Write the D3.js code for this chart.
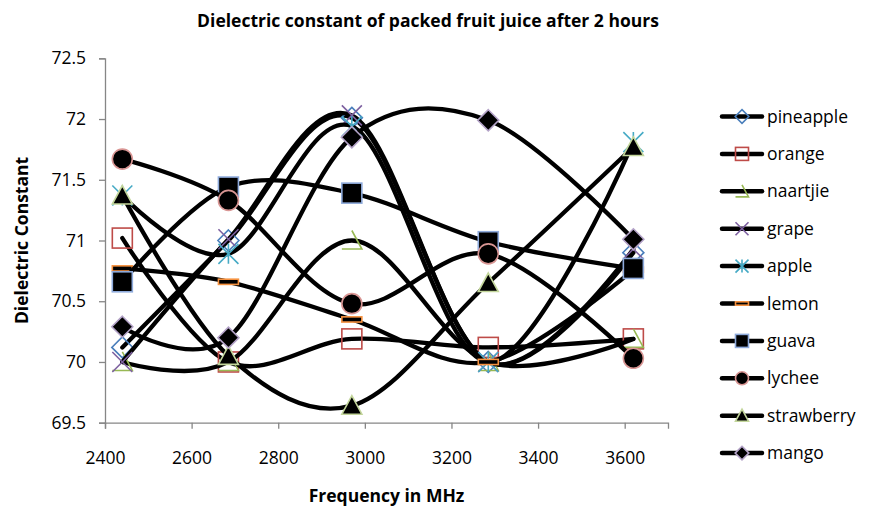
<!DOCTYPE html>
<html>
<head>
<meta charset="utf-8">
<script src="https://cdn.jsdelivr.net/npm/d3@7"></script>
<style>
  html, body { margin: 0; padding: 0; background: #fff; }
  svg { display: block; font-family: "Open Sans", Lato, sans-serif; }
</style>
</head>
<body>
<svg id="chart" width="871" height="510"></svg>
<script>
// ---- data ----
const frequencies = [2440, 2685, 2970, 3285, 3620];
const seriesNames = ["pineapple", "orange", "naartjie", "grape", "apple", "lemon", "guava", "lychee", "strawberry", "mango"];
const pineapple  = [70.12, 71.00, 72.01, 70.00, 70.90];
const orange     = [71.02, 70.00, 70.19, 70.12, 70.19];
const naartjie   = [70.00, 70.00, 71.00, 70.00, 70.19];
const grape      = [70.00, 71.01, 72.03, 70.00, 70.93];
const apple      = [71.37, 70.89, 71.94, 70.00, 71.81];
const lemon      = [70.77, 70.66, 70.35, 70.00, 70.76];
const guava      = [70.66, 71.44, 71.39, 70.99, 70.77];
const lychee     = [71.67, 71.33, 70.48, 70.89, 70.03];
const strawberry = [71.37, 70.05, 69.64, 70.65, 71.77];
const mango      = [70.29, 70.20, 71.85, 71.99, 71.01];
const seriesValues = [pineapple, orange, naartjie, grape, apple, lemon, guava, lychee, strawberry, mango];
const xTicks = [2400, 2600, 2800, 3000, 3200, 3400, 3600];
const yTicks = [69.5, 70, 70.5, 71, 71.5, 72, 72.5];
const titleText = "Dielectric constant of packed fruit juice after 2 hours";
const xTitle = "Frequency in MHz";
const yTitle = "Dielectric Constant";

// ---- styles ----
const markerStyle = {
  pineapple:  { shape: "diamond",  fill: "none",  stroke: "#4a7ebb" },
  orange:     { shape: "square",   fill: "none",  stroke: "#be4b48" },
  naartjie:   { shape: "halftri",  fill: "none",  stroke: "#98b954" },
  grape:      { shape: "x",        fill: "none",  stroke: "#7d60a0" },
  apple:      { shape: "star",     fill: "none",  stroke: "#46aac5" },
  lemon:      { shape: "dash",     fill: "#000",  stroke: "#f69240" },
  guava:      { shape: "square",   fill: "#000",  stroke: "#8eaadb" },
  lychee:     { shape: "circle",   fill: "#000",  stroke: "#d99694" },
  strawberry: { shape: "triangle", fill: "#000",  stroke: "#c3d69b" },
  mango:      { shape: "diamond",  fill: "#000",  stroke: "#b3a2c7" }
};
const FS = 17.5;

const svg = d3.select("#chart");
const plot = { left: 105, right: 668, top: 58.3, bottom: 422.7 };

const x = d3.scaleLinear().domain([2400, 3700]).range([plot.left, plot.right]);
const y = d3.scaleLinear().domain([69.5, 72.5]).range([plot.bottom, plot.top]);

// axes
const axisColor = "#868686";
const yAxis = svg.append("g").attr("transform", `translate(${plot.left},0)`)
  .call(d3.axisLeft(y).tickValues(yTicks).tickSize(6).tickPadding(13).tickFormat(d3.format("")));
const xAxis = svg.append("g").attr("transform", `translate(0,${plot.bottom})`)
  .call(d3.axisBottom(x).tickValues(xTicks).tickSize(6).tickPadding(23).tickFormat(d3.format("")));
[xAxis, yAxis].forEach(g => {
  g.select(".domain").attr("stroke", axisColor).attr("stroke-width", 1.3);
  g.selectAll(".tick line").attr("stroke", axisColor).attr("stroke-width", 1.3);
  g.selectAll(".tick text").attr("fill", "#000").attr("font-size", FS).attr("font-family", "'Open Sans', sans-serif");
});

// marker drawing
function drawMarker(g, shape, cx, cy, s, st) {
  const h = s / 2;
  const sw = 1.6;
  let el;
  switch (shape) {
    case "square":
      el = g.append("rect").attr("x", cx - h).attr("y", cy - h).attr("width", s).attr("height", s);
      break;
    case "circle":
      el = g.append("circle").attr("cx", cx).attr("cy", cy).attr("r", h);
      break;
    case "diamond":
      el = g.append("path").attr("d", `M${cx},${cy - h * 1.05}L${cx + h * 1.05},${cy}L${cx},${cy + h * 1.05}L${cx - h * 1.05},${cy}Z`);
      break;
    case "triangle":
      el = g.append("path").attr("d", `M${cx},${cy - h}L${cx + h},${cy + h * 0.85}L${cx - h},${cy + h * 0.85}Z`);
      break;
    case "halftri":
      el = g.append("path").attr("d", `M${cx},${cy - h}L${cx + h},${cy + h * 0.85}L${cx - h},${cy + h * 0.85}`);
      break;
    case "x":
      el = g.append("path").attr("d", `M${cx - h},${cy - h}L${cx + h},${cy + h}M${cx - h},${cy + h}L${cx + h},${cy - h}`);
      break;
    case "star":
      el = g.append("path").attr("d", `M${cx - h},${cy - h}L${cx + h},${cy + h}M${cx - h},${cy + h}L${cx + h},${cy - h}M${cx},${cy - h}L${cx},${cy + h}`);
      break;
    case "dash":
      el = g.append("rect").attr("x", cx - h).attr("y", cy - s * 0.13).attr("width", s).attr("height", s * 0.26);
      break;
  }
  el.attr("fill", st.fill).attr("stroke", st.stroke).attr("stroke-width", sw);
}

const line = d3.line()
  .x((d, i) => x(frequencies[i]))
  .y(d => y(d))
  .curve(d3.curveCardinal.tension(0));

const plotG = svg.append("g");
seriesNames.forEach((name, si) => {
  const vals = seriesValues[si];
  const g = plotG.append("g").attr("class", "series-" + name);
  g.append("path").datum(vals).attr("d", line)
    .attr("fill", "none").attr("stroke", "#000").attr("stroke-width", 4.3)
    .attr("stroke-linecap", "round").attr("stroke-linejoin", "round");
  vals.forEach((v, i) => drawMarker(g, markerStyle[name].shape, x(frequencies[i]), y(v), 20, markerStyle[name]));
});

// legend
const leg = svg.append("g");
const legY0 = 116.5, legStep = 37.4;
seriesNames.forEach((name, i) => {
  const yy = legY0 + i * legStep;
  const g = leg.append("g");
  g.append("line").attr("x1", 722).attr("x2", 762).attr("y1", yy).attr("y2", yy)
    .attr("stroke", "#000").attr("stroke-width", 4.5).attr("stroke-linecap", "round");
  drawMarker(g, markerStyle[name].shape, 742, yy, 13, markerStyle[name]);
  g.append("text").attr("x", 767).attr("y", yy).attr("dy", "0.35em")
    .attr("font-size", FS).attr("fill", "#000").text(name);
});

// titles
svg.append("text").attr("x", 428).attr("y", 27).attr("text-anchor", "middle")
  .attr("font-size", FS).attr("font-weight", "bold").text(titleText);
svg.append("text").attr("x", (plot.left + plot.right) / 2).attr("y", 502).attr("text-anchor", "middle")
  .attr("font-size", FS).attr("font-weight", "bold").text(xTitle);
svg.append("text").attr("transform", `translate(28,${(plot.top + plot.bottom) / 2}) rotate(-90)`)
  .attr("text-anchor", "middle").attr("font-size", FS).attr("font-weight", "bold").text(yTitle);
</script>
</body>
</html>
